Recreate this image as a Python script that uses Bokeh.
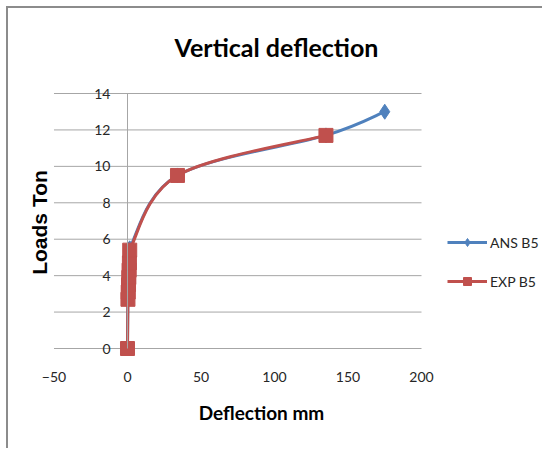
import numpy as np
from bokeh.plotting import figure
from bokeh.models import Range1d, FixedTicker, Label, Legend, LegendItem, ColumnDataSource
from bokeh.embed import file_html
from bokeh.resources import INLINE

# ---- data ----
ans_x = [0, 0.3, 0.9, 1.5, 34, 135, 175]
ans_y = [0, 2.8, 4.6, 5.5, 9.5, 11.7, 13.0]
exp_x = [0, 0.3, 0.5, 0.7, 0.9, 1.1, 1.3, 1.5, 34, 135]
exp_y = [0, 2.7, 3.1, 3.5, 3.9, 4.3, 4.7, 5.4, 9.5, 11.7]
x_ticks = [-50, 0, 50, 100, 150, 200]
y_ticks = [0, 2, 4, 6, 8, 10, 12, 14]
series_names = ["ANS B5", "EXP B5"]
title_text = "Vertical deflection"
x_title = "Deflection mm"
y_title = "Loads Ton"

BLUE = "#4F81BD"
RED = "#C0504D"
GRID = "#A6A6A6"
TEXT = "#262626"
LABEL_FONT = "Lato"

W, H = 536, 442


def smooth_segments(xs, ys):
    """Catmull-Rom style bezier segments through the data points (Excel smoothed line)."""
    P = np.column_stack([xs, ys]).astype(float)
    E = np.vstack([P[0], P, P[-1]])
    d = {k: [] for k in ["x0", "y0", "x1", "y1", "cx0", "cy0", "cx1", "cy1"]}
    for i in range(len(P) - 1):
        p0, p1, p2, p3 = E[i], E[i + 1], E[i + 2], E[i + 3]
        c0 = p1 + (p2 - p0) / 6.0
        c1 = p2 - (p3 - p1) / 6.0
        d["x0"].append(p1[0]); d["y0"].append(p1[1])
        d["x1"].append(p2[0]); d["y1"].append(p2[1])
        d["cx0"].append(c0[0]); d["cy0"].append(c0[1])
        d["cx1"].append(c1[0]); d["cy1"].append(c1[1])
    return ColumnDataSource(d)


# the frame covers the whole canvas; the visible plot area is x -50..200, y 0..14
p = figure(width=W, height=H, x_range=Range1d(-80.95, 283.67), y_range=Range1d(-5.60, 18.667),
           output_backend="svg", toolbar_location=None, min_border=0)
p.styles = {"margin-left": "6px", "margin-top": "6px",
            "border-left": "2px solid #8C8C8C", "border-top": "2px solid #8C8C8C"}
p.outline_line_color = None
p.background_fill_color = "white"
p.border_fill_color = "white"
p.xgrid.grid_line_color = None
p.ygrid.grid_line_color = None

# horizontal gridlines across the plot area, one per y tick
p.segment(x0=[x_ticks[0]] * len(y_ticks), x1=[x_ticks[-1]] * len(y_ticks),
          y0=y_ticks, y1=y_ticks, line_color=GRID, line_width=1)

# axes
p.xaxis.ticker = FixedTicker(ticks=x_ticks)
p.yaxis.ticker = FixedTicker(ticks=y_ticks)
for ax in (p.xaxis, p.yaxis):
    ax.major_tick_line_color = None
    ax.minor_tick_line_color = None
    ax.major_label_text_font = LABEL_FONT
    ax.major_label_text_font_size = "14px"
    ax.major_label_text_color = TEXT
p.xaxis.axis_line_color = None
p.xaxis.fixed_location = -0.5
p.xaxis.major_label_standoff = 8
p.yaxis.fixed_location = 0
p.yaxis.bounds = (0, 14)
p.yaxis.axis_line_color = GRID
p.yaxis.major_label_standoff = 11

# series
src_ans = smooth_segments(ans_x, ans_y)
src_exp = smooth_segments(exp_x, exp_y)
bl = p.bezier(x0="x0", y0="y0", x1="x1", y1="y1", cx0="cx0", cy0="cy0", cx1="cx1", cy1="cy1",
              source=src_ans, line_color=BLUE, line_width=3)
bp = p.scatter(ans_x, ans_y, marker="diamond", size=15, fill_color=BLUE, line_color=BLUE)
rl = p.bezier(x0="x0", y0="y0", x1="x1", y1="y1", cx0="cx0", cy0="cy0", cx1="cx1", cy1="cy1",
              source=src_exp, line_color=RED, line_width=3)
rp = p.scatter(exp_x, exp_y, marker="square", size=14, fill_color=RED, line_color=RED)

legend = Legend(items=[LegendItem(label=series_names[0], renderers=[bl, bp]),
                       LegendItem(label=series_names[1], renderers=[rl, rp])],
                location=(439, 159), orientation="vertical",
                glyph_width=40, glyph_height=20, spacing=19, label_standoff=3,
                padding=0, margin=0, border_line_color=None, background_fill_alpha=0,
                label_text_font=LABEL_FONT, label_text_font_size="14px",
                label_text_color=TEXT)
p.add_layout(legend)

# titles (screen units, measured from the bottom-left of the canvas)
p.add_layout(Label(x=268, y=H - 38, x_units="screen", y_units="screen", text=title_text,
                   text_align="center", text_baseline="middle", text_font=LABEL_FONT,
                   text_font_style="bold", text_font_size="25px", text_color="black"))
p.add_layout(Label(x=253, y=H - 404, x_units="screen", y_units="screen", text=x_title,
                   text_align="center", text_baseline="middle", text_font=LABEL_FONT,
                   text_font_style="bold", text_font_size="19px", text_color="black"))
p.add_layout(Label(x=31, y=H - 214, x_units="screen", y_units="screen", text=y_title,
                   text_align="center", text_baseline="middle", angle=np.pi / 2,
                   text_font="Liberation Sans", text_font_style="bold",
                   text_font_size="21px", text_color="black"))

open("out.html", "w").write(file_html(p, INLINE))
